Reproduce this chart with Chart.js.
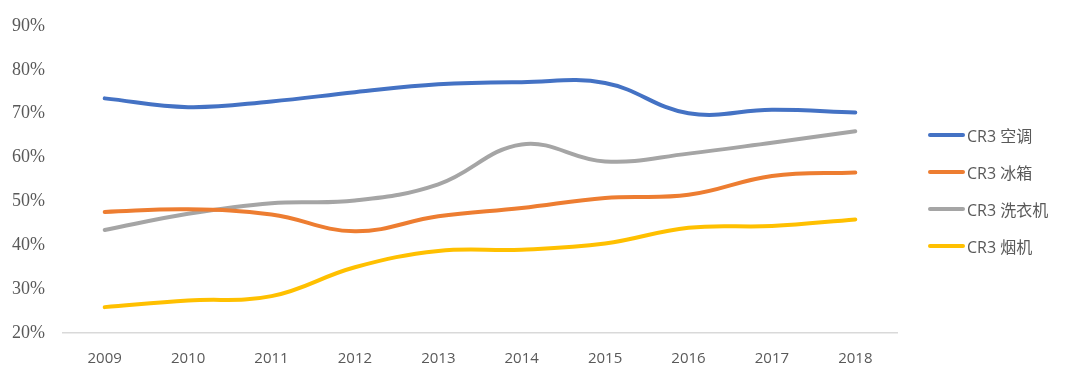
<!DOCTYPE html>
<html>
<head>
<meta charset="utf-8">
<script src="https://cdn.jsdelivr.net/npm/chart.js@4"></script>
<style>
  html, body { margin: 0; padding: 0; background: #fff; }
  #wrap { position: relative; width: 1080px; height: 380px; }
  #legend { position: absolute; left: 928px; top: 0; font-family: "Open Sans", "Noto Sans CJK SC", sans-serif; font-size: 16px; color: #595959; }
  .item { position: absolute; left: 0; white-space: nowrap; display: flex; align-items: center; height: 22px; }
  .swatch { width: 37px; height: 4px; border-radius: 2px; margin-right: 2px; }
</style>
</head>
<body>
<div id="wrap">
  <canvas id="c" width="1080" height="380"></canvas>
  <div id="legend"></div>
</div>
<script>
const years = ["2009","2010","2011","2012","2013","2014","2015","2016","2017","2018"];
const seriesNames = ["CR3 空调", "CR3 冰箱", "CR3 洗衣机", "CR3 烟机"];
const acValues     = [73.5, 71.5, 72.8, 74.9, 76.7, 77.2, 77.0, 70.1, 70.9, 70.3];
const fridgeValues = [47.6, 48.2, 47.0, 43.2, 46.6, 48.5, 50.8, 51.5, 55.8, 56.6];
const washerValues = [43.5, 47.2, 49.6, 50.2, 53.9, 63.0, 59.1, 60.9, 63.4, 66.0];
const hoodValues   = [25.9, 27.4, 28.4, 35.0, 38.7, 39.0, 40.4, 44.0, 44.4, 45.9];
const yTicks = [20, 30, 40, 50, 60, 70, 80, 90];

const colors = ["#4472C4", "#ED7D31", "#A5A5A5", "#FFC000"];
const allValues = [acValues, fridgeValues, washerValues, hoodValues];

const datasets = seriesNames.map((name, i) => ({
  label: name,
  data: allValues[i],
  borderColor: colors[i],
  backgroundColor: colors[i],
  borderWidth: 4,
  pointRadius: 0,
  tension: 0.4,
  borderCapStyle: 'round',
  fill: false
}));

new Chart(document.getElementById('c'), {
  type: 'line',
  data: { labels: years, datasets },
  options: {
    responsive: false,
    animation: false,
    layout: { padding: { top: 26, right: 183, left: 0, bottom: 0 } },
    plugins: { legend: { display: false }, tooltip: { enabled: false } },
    scales: {
      x: {
        offset: true,
        grid: { display: false },
        border: { display: true, color: '#D9D9D9', width: 1.5 },
        ticks: { color: '#595959', font: { family: 'Open Sans', size: 15 }, padding: 9, maxRotation: 0 },
        afterFit: s => { s.height = 47; }
      },
      y: {
        min: 20, max: 90,
        afterBuildTicks: s => { s.ticks = yTicks.map(v => ({ value: v })); },
        grid: { display: false },
        border: { display: false },
        ticks: { color: '#595959', font: { family: 'Liberation Serif', size: 18 }, padding: 10, callback: v => v + '%' },
        afterFit: s => { s.width = 63; }
      }
    }
  }
});

const legend = document.getElementById('legend');
const centers = [135, 172, 209, 246];
seriesNames.forEach((name, i) => {
  const it = document.createElement('div');
  it.className = 'item';
  it.style.top = (centers[i] - 11) + 'px';
  const sw = document.createElement('span');
  sw.className = 'swatch';
  sw.style.background = colors[i];
  const tx = document.createElement('span');
  tx.textContent = name;
  it.appendChild(sw); it.appendChild(tx);
  legend.appendChild(it);
});
</script>
</body>
</html>
